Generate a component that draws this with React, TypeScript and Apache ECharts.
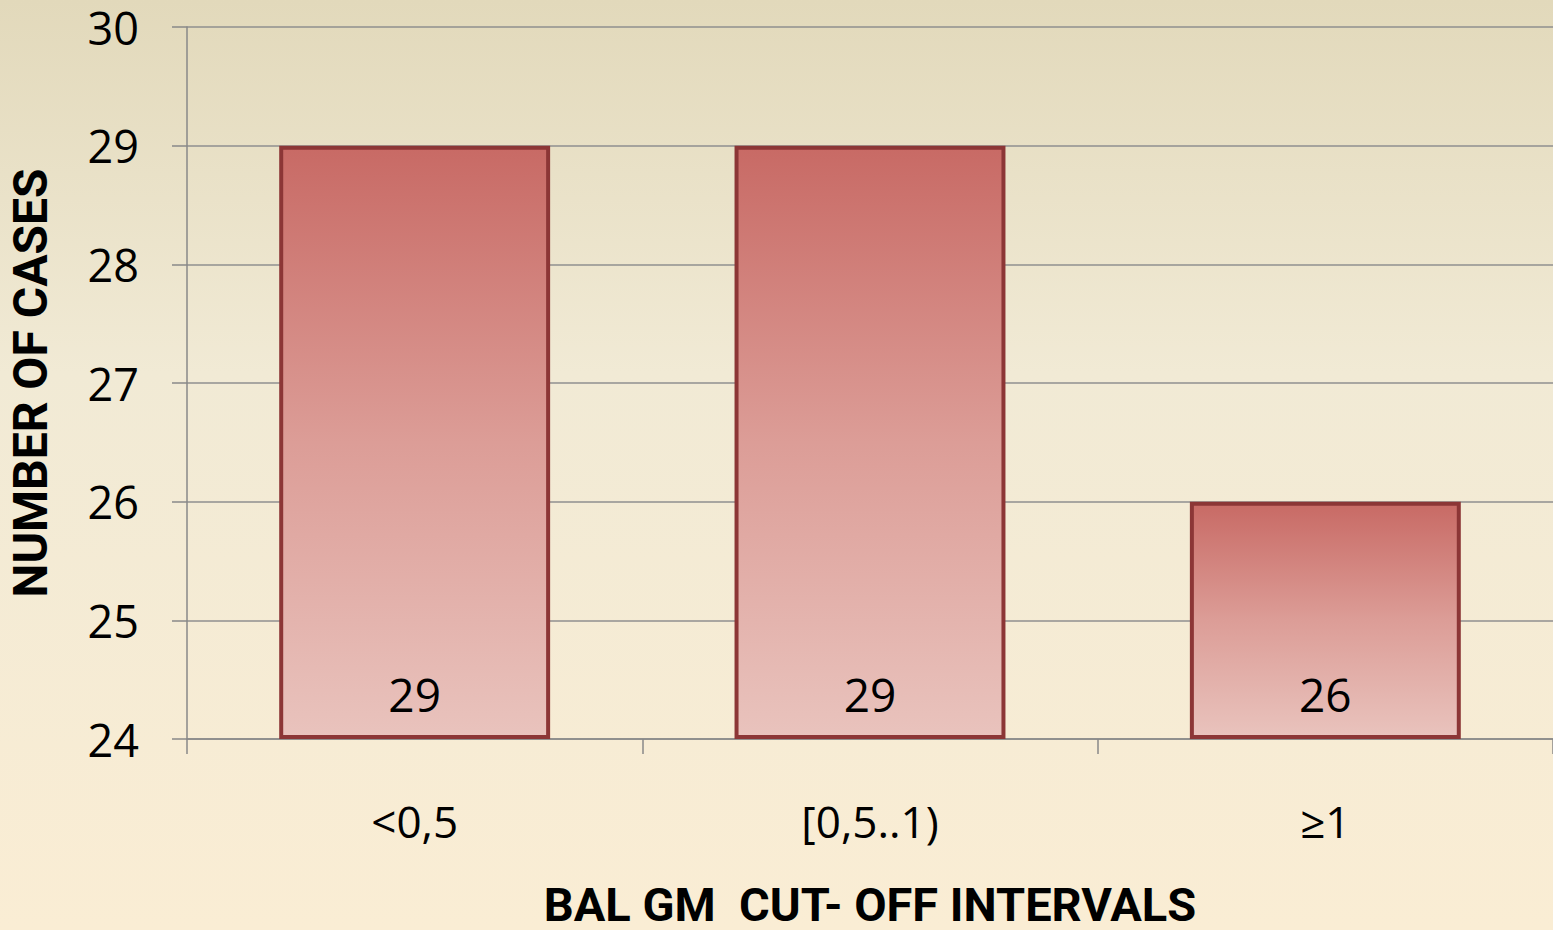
import React, { useEffect, useRef } from "react";
import * as echarts from "echarts";

const categories = ["<0,5", "[0,5..1)", "≥1"];
const cases = [29, 29, 26];
const yTicks = { min: 24, max: 30, interval: 1 };
const xAxisName = "BAL GM  CUT- OFF INTERVALS";
const yAxisName = "NUMBER OF CASES";

export default function App() {
  const ref = useRef<HTMLDivElement>(null);
  useEffect(() => {
    document.body.style.margin = "0";
    const chart = echarts.init(ref.current!, null, { renderer: "svg" });
    const font = "'Open Sans', 'Noto Sans', sans-serif";
    const boldFont = "Roboto, 'Open Sans', sans-serif";
    chart.setOption({
      animation: false,
      grid: { left: 187, right: 0, top: 27, bottom: 191, containLabel: false, outerBoundsMode: "none" },
      xAxis: {
        type: "category",
        data: categories,
        name: xAxisName,
        nameLocation: "middle",
        nameGap: 142,
        nameTextStyle: { fontFamily: boldFont, fontWeight: "bold", fontSize: 47, color: "#000" },
        axisLine: { show: true, lineStyle: { color: "#888", width: 1.5 } },
        axisTick: { show: true, length: 15, lineStyle: { color: "#888", width: 1.5 } },
        axisLabel: { fontFamily: font, fontSize: 44, color: "#000", margin: 60 },
      },
      yAxis: {
        type: "value",
        min: yTicks.min,
        max: yTicks.max,
        interval: yTicks.interval,
        startValue: yTicks.min,
        name: yAxisName,
        nameLocation: "middle",
        nameGap: 133,
        nameTextStyle: { fontFamily: boldFont, fontWeight: "bold", fontSize: 48, color: "#000" },
        axisLine: { show: true, lineStyle: { color: "#888", width: 1.5 } },
        axisTick: { show: true, length: 15, lineStyle: { color: "#888", width: 1.5 } },
        axisLabel: { fontFamily: font, fontSize: 45, color: "#000", margin: 48 },
        splitLine: { show: true, lineStyle: { color: "#8f8f8f", width: 1.5 } },
      },
      series: [
        {
          type: "bar",
          data: cases,
          barCategoryGap: "40.5%",
          itemStyle: {
            color: new echarts.graphic.LinearGradient(0, 0, 0, 1, [
              { offset: 0, color: "#c86a65" },
              { offset: 0.5, color: "#dc9d97" },
              { offset: 1, color: "#e9c3bd" },
            ]),
            borderColor: "#8c3636",
            borderWidth: 4,
          },
          label: {
            show: true,
            position: "insideBottom",
            distance: 22,
            fontFamily: font,
            fontSize: 46,
            color: "#000",
          },
        },
      ],
    });
    return () => chart.dispose();
  }, []);
  return (
    <div
      ref={ref}
      style={{
        width: 1553,
        height: 930,
        background: "linear-gradient(to bottom, #e2d9bb 0%, #f1ead5 40%, #faedd4 100%)",
      }}
    />
  );
}
